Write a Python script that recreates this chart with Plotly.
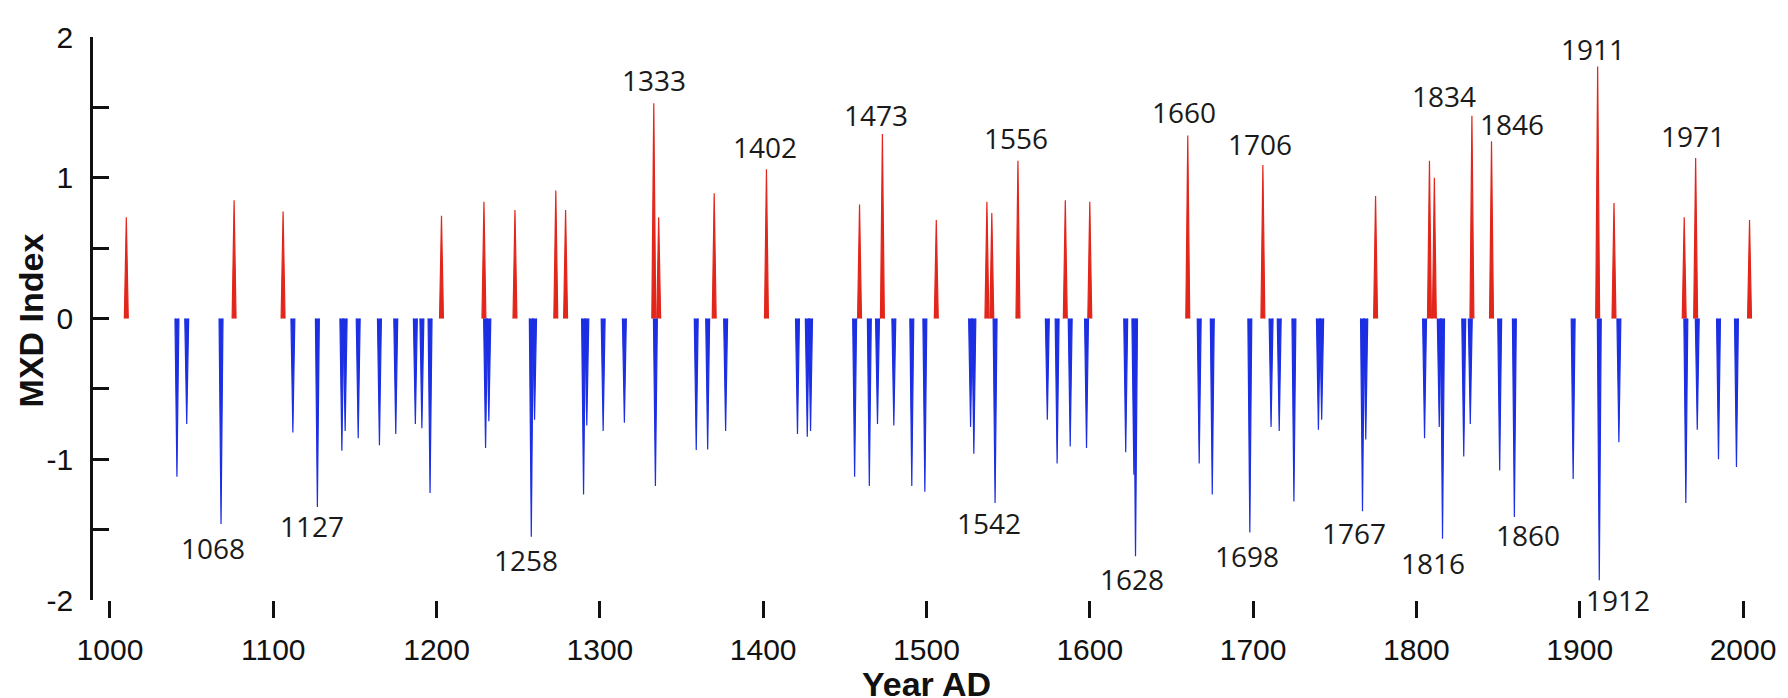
import plotly.graph_objects as go

# ---- data ----
pos_years = [1010, 1076, 1106, 1203, 1229, 1248, 1273, 1279, 1333, 1336, 1370, 1402,
             1459, 1473, 1506, 1537, 1540, 1556, 1585, 1600, 1660, 1706, 1775, 1808,
             1811, 1834, 1846, 1911, 1921, 1964, 1971, 2004]
pos_vals = [0.72, 0.84, 0.76, 0.73, 0.83, 0.77, 0.91, 0.77, 1.53, 0.72, 0.89, 1.06,
            0.81, 1.31, 0.70, 0.83, 0.75, 1.12, 0.84, 0.83, 1.30, 1.09, 0.87, 1.12,
            1.00, 1.44, 1.26, 1.79, 0.82, 0.72, 1.14, 0.70]

neg_years = [1041, 1047, 1068, 1112, 1127, 1142, 1144, 1152, 1165, 1175, 1187, 1191,
             1196, 1230, 1232, 1258, 1260, 1290, 1292, 1302, 1315, 1334, 1359, 1366,
             1377, 1421, 1427, 1429, 1456, 1465, 1470, 1480, 1491, 1499, 1527, 1529,
             1542, 1574, 1580, 1588, 1598, 1622, 1627, 1628, 1667, 1675, 1698, 1711,
             1716, 1725, 1740, 1742, 1767, 1769, 1805, 1814, 1816, 1829, 1833, 1851,
             1860, 1896, 1912, 1924, 1965, 1972, 1985, 1996]
neg_vals = [-1.125, -0.75, -1.46, -0.81, -1.34, -0.94, -0.80, -0.85, -0.90, -0.82, -0.75, -0.78,
            -1.24, -0.92, -0.73, -1.55, -0.72, -1.25, -0.76, -0.80, -0.74, -1.19, -0.935, -0.93,
            -0.80, -0.82, -0.84, -0.80, -1.125, -1.19, -0.75, -0.76, -1.19, -1.23, -0.77, -0.96,
            -1.31, -0.72, -1.03, -0.91, -0.92, -0.95, -1.11, -1.69, -1.03, -1.25, -1.52, -0.77,
            -0.80, -1.30, -0.79, -0.72, -1.37, -0.86, -0.85, -0.77, -1.565, -0.98, -0.75, -1.08,
            -1.41, -1.14, -1.86, -0.88, -1.31, -0.79, -1.00, -1.055]

pos_label_years = [1333, 1402, 1473, 1556, 1660, 1706, 1834, 1846, 1911, 1971]
neg_label_years = [1068, 1127, 1258, 1542, 1628, 1698, 1767, 1816, 1860, 1912]

x_tick_vals = [1000, 1100, 1200, 1300, 1400, 1500, 1600, 1700, 1800, 1900, 2000]
y_tick_vals = [-2, -1.5, -1, -0.5, 0, 0.5, 1, 1.5, 2]
y_tick_text = ["-2", "", "-1", "", "0", "", "1", "", "2"]

# ---- label styling (pixel nudges) ----
pos_xshift = {1333: 0, 1402: -1, 1473: -6, 1556: -2, 1660: -4, 1706: -3,
              1834: -28, 1846: 20, 1911: -5, 1971: -3}
pos_gap = {1333: 11, 1402: 10, 1473: 7, 1556: 11, 1660: 12, 1706: 9,
           1834: 8, 1846: 5, 1911: 6, 1971: 10}
neg_xshift = {1068: -8, 1127: -5, 1258: -5, 1542: -6, 1628: -4, 1698: -3,
              1767: -9, 1816: -10, 1860: 14, 1912: 19}
neg_gap = {1068: 14, 1127: 9, 1258: 13, 1542: 10, 1628: 13, 1698: 14,
           1767: 12, 1816: 14, 1860: 8, 1912: 10}

RED = "#E3261B"
BLUE = "#1C2FE3"
HALF_W = 1.2


def spike_path(years, vals):
    xs, ys = [], []
    for yr, v in zip(years, vals):
        xs += [yr - HALF_W, yr, yr + HALF_W, None]
        ys += [0, v, 0, None]
    return xs, ys


fig = go.Figure()
for years, vals, col in [(pos_years, pos_vals, RED), (neg_years, neg_vals, BLUE)]:
    xs, ys = spike_path(years, vals)
    fig.add_trace(go.Scatter(x=xs, y=ys, mode="lines", fill="toself",
                             fillcolor=col, line=dict(color=col, width=1.2),
                             hoverinfo="skip", showlegend=False))

pos_lookup = dict(zip(pos_years, pos_vals))
neg_lookup = dict(zip(neg_years, neg_vals))
LABEL_FONT = dict(family="Open Sans, DejaVu Sans, sans-serif", size=28, color="#1a1a1a")

annotations = []
for yr in pos_label_years:
    annotations.append(dict(x=yr, y=pos_lookup[yr], xref="x", yref="y", text=str(yr),
                            showarrow=False, xanchor="center", yanchor="bottom",
                            xshift=pos_xshift[yr], yshift=pos_gap[yr] - 9, font=LABEL_FONT))
for yr in neg_label_years:
    annotations.append(dict(x=yr, y=neg_lookup[yr], xref="x", yref="y", text=str(yr),
                            showarrow=False, xanchor="center", yanchor="top",
                            xshift=neg_xshift[yr], yshift=-(neg_gap[yr] - 11), font=LABEL_FONT))

TITLE_FONT = dict(family="Liberation Sans, Arial, sans-serif", size=34, color="#111111")
annotations.append(dict(x=0.5, y=-0.1123, xref="paper", yref="paper", text="<b>Year AD</b>",
                        showarrow=False, xanchor="center", yanchor="top", font=TITLE_FONT))
annotations.append(dict(x=-0.0375, y=0.4957, xref="paper", yref="paper", text="<b>MXD Index</b>",
                        showarrow=False, xanchor="center", yanchor="middle", textangle=-90,
                        font=TITLE_FONT))

TICK_FONT = dict(family="Liberation Sans, Arial, sans-serif", size=30, color="#111111")
# the page body keeps the browser's default 8px margin, so the figure is drawn
# 8px smaller than the window and offset accordingly
fig.update_layout(
    width=1780, height=690,
    margin=dict(l=85, r=28, t=13, b=98),
    paper_bgcolor="white", plot_bgcolor="white",
    showlegend=False,
    annotations=annotations,
    xaxis=dict(range=[989.6, 2009.8], tickvals=x_tick_vals,
               ticktext=[str(v) for v in x_tick_vals],
               ticks="outside", ticklen=17, tickwidth=2.5, tickcolor="#111111",
               ticklabelstandoff=6, ticklabeloverflow="allow",
               showline=False, showgrid=False, zeroline=False, tickfont=TICK_FONT),
    yaxis=dict(range=[-2, 2], tickvals=y_tick_vals, ticktext=y_tick_text,
               ticks="inside", ticklen=16, tickwidth=2.5, tickcolor="#111111",
               ticklabelstandoff=11, ticklabeloverflow="allow",
               showline=True, linewidth=2.7, linecolor="#111111",
               showgrid=False, zeroline=False, tickfont=TICK_FONT),
)

fig.write_html("out.html")
